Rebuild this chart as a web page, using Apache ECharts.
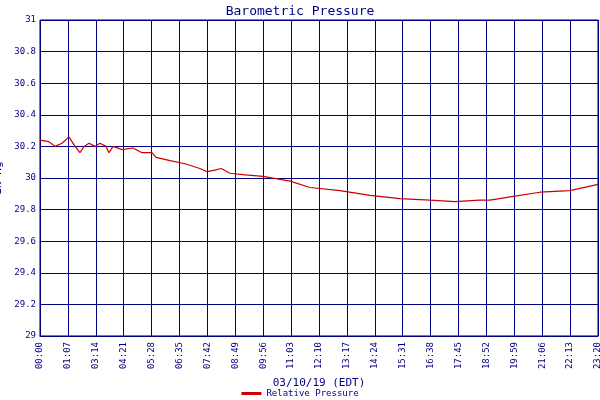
<!DOCTYPE html>
<html><head><meta charset="utf-8">
<script src="https://cdn.jsdelivr.net/npm/echarts@6/dist/echarts.min.js"></script>
<style>html,body{margin:0;padding:0;background:#fff}#c{width:600px;height:400px}</style>
</head><body><div id="c"></div>
<script>
var tickLabels = ['00:00','01:07','03:14','04:21','05:28','06:35','07:42','08:49','09:56','11:03','12:10',
  '13:17','14:24','15:31','16:38','17:45','18:52','19:59','21:06','22:13','23:20'];
// x in grid-step units (0..20), pressure in inHg
var xs = [0,0.32,0.54,0.79,1.04,1.22,1.43,1.58,1.76,1.97,2.15,2.37,2.47,2.62,2.94,3.33,3.66,4.01,4.16,4.66,5.2,5.73,5.99,6.27,6.49,6.81,7.35,8.0,8.96,9.68,10.75,11.83,12.9,13.98,14.87,15.77,16.13,16.85,17.92,18.99,20.0];
var pressure = [30.24,30.23,30.20,30.22,30.26,30.21,30.16,30.20,30.22,30.20,30.22,30.20,30.16,30.20,30.18,30.19,30.16,30.16,30.13,30.11,30.09,30.06,30.04,30.05,30.06,30.03,30.02,30.01,29.98,29.94,29.92,29.89,29.87,29.86,29.85,29.86,29.86,29.88,29.91,29.92,29.96];
var yMin = 29, yMax = 31, yStep = 0.2;

var navy = '#000080';
var font = 'DejaVu Sans Mono';
var chart = echarts.init(document.getElementById('c'));
chart.setOption({
  animation: false,
  title: { text: 'Barometric Pressure', left: 'center', top: 0,
    textStyle: { color: navy, fontFamily: font, fontSize: 13, fontWeight: 'normal' } },
  grid: { left: 40, right: 2, top: 20, bottom: 64, show: true, borderColor: '#000', borderWidth: 1,
    containLabel: false, outerBoundsMode: 'none' },
  legend: { bottom: -3, left: 'center', itemWidth: 20, itemHeight: 3, icon: 'rect',
    textStyle: { color: navy, fontFamily: font, fontSize: 9 } },
  xAxis: { type: 'value', min: 0, max: 20, interval: 1,
    name: '03/10/19 (EDT)', nameLocation: 'middle', nameGap: 42,
    nameTextStyle: { color: navy, fontFamily: font, fontSize: 11 },
    axisLine: { lineStyle: { color: navy } }, axisTick: { show: false },
    axisLabel: { rotate: 90, color: navy, fontFamily: font, fontSize: 9, margin: 6,
      formatter: function (v) { return tickLabels[Math.round(v)] || ''; } },
    splitLine: { lineStyle: { color: navy, width: 1 } } },
  yAxis: { type: 'value', min: yMin, max: yMax, interval: yStep,
    name: 'IN Hg', nameLocation: 'middle', nameGap: 30,
    nameTextStyle: { color: navy, fontFamily: font, fontSize: 11 },
    axisLine: { show: false }, axisTick: { show: false },
    axisLabel: { color: navy, fontFamily: font, fontSize: 9, margin: 4,
      formatter: function (v) { return String(+v.toFixed(1)); } },
    splitLine: { lineStyle: { color: navy, width: 1 } } },
  series: [{ name: 'Relative Pressure', type: 'line', showSymbol: false,
    lineStyle: { color: '#cc0000', width: 1.2 }, itemStyle: { color: '#cc0000' },
    data: xs.map(function (x, i) { return [x, pressure[i]]; }) }]
});
</script></body></html>
